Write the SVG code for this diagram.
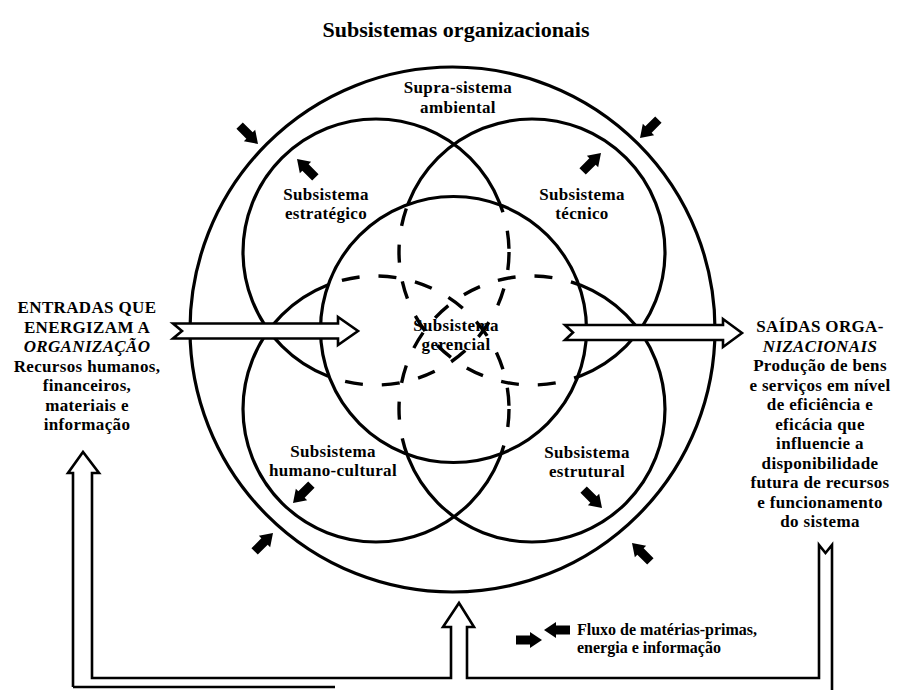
<svg xmlns="http://www.w3.org/2000/svg" xmlns:xlink="http://www.w3.org/1999/xlink" width="897" height="690" viewBox="0 0 897 690">
  <style>
    text { font-family: "Liberation Serif", "Times New Roman", serif; font-weight: bold; fill: #000; text-anchor: middle; }
    .title { font-size: 22px; }
    .lbl { font-size: 17px; letter-spacing: 0.35px; }
    .it { font-style: italic; }
    .legend { font-size: 16px; text-anchor: start; }
    .ring { fill: none; stroke: #000; stroke-width: 3.2; }
    .dash { fill: none; stroke: #000; stroke-width: 3.4; stroke-dasharray: 18 19; }
    .pipe { fill: #fff; stroke: #000; stroke-width: 2.6; stroke-linejoin: miter; }
    .loop { fill: none; stroke: #000; stroke-width: 2.6; stroke-linejoin: miter; }
    .flow { fill: #000; }
  </style>
  <defs>
    <!-- short solid flow arrow, tip at the origin, pointing along +x -->
    <path id="flow" d="M0,0 L-12,-8 L-12,-4.5 L-26,-4.5 L-26,4.5 L-12,4.5 L-12,8 Z"/>
    <clipPath id="inCore">
      <circle cx="453.5" cy="329.5" r="133"/>
    </clipPath>
    <mask id="outCore" maskUnits="userSpaceOnUse" x="0" y="0" width="897" height="690">
      <rect x="0" y="0" width="897" height="690" fill="#fff"/>
      <circle cx="453.5" cy="329.5" r="133" fill="#000"/>
    </mask>
  </defs>

  <rect x="0" y="0" width="897" height="690" fill="#fff"/>

  <g id="title">
    <text class="title" x="456" y="37">Subsistemas organizacionais</text>
  </g>

  <!-- environment: outer ring -->
  <g id="supra-sistema">
    <circle class="ring" cx="452.5" cy="329.5" r="262.5"/>
    <text class="lbl" x="458" y="93">Supra-sistema</text>
    <text class="lbl" x="458" y="113">ambiental</text>
  </g>

  <!-- four subsystem rings: solid outside the core, dashed inside it -->
  <g id="petal-rings">
    <g mask="url(#outCore)">
      <circle class="ring" cx="376" cy="252" r="133"/>
      <circle class="ring" cx="532" cy="252" r="133"/>
      <circle class="ring" cx="376" cy="409" r="133"/>
      <circle class="ring" cx="532" cy="409" r="133"/>
    </g>
    <g clip-path="url(#inCore)">
      <circle class="dash" cx="376" cy="252" r="133"/>
      <circle class="dash" cx="532" cy="252" r="133"/>
      <circle class="dash" cx="376" cy="409" r="133"/>
      <circle class="dash" cx="532" cy="409" r="133"/>
    </g>
  </g>

  <g id="estrategico">
    <text class="lbl" x="326" y="200">Subsistema</text>
    <text class="lbl" x="326" y="219">estratégico</text>
  </g>
  <g id="tecnico">
    <text class="lbl" x="582" y="200">Subsistema</text>
    <text class="lbl" x="582" y="219">técnico</text>
  </g>
  <g id="gerencial">
    <circle class="ring" cx="453.5" cy="329.5" r="133"/>
    <text class="lbl" x="456" y="331">Subsistema</text>
    <text class="lbl" x="456" y="350">gerencial</text>
  </g>
  <g id="humano-cultural">
    <text class="lbl" x="333" y="457">Subsistema</text>
    <text class="lbl" x="333" y="476">humano-cultural</text>
  </g>
  <g id="estrutural">
    <text class="lbl" x="587" y="458">Subsistema</text>
    <text class="lbl" x="587" y="477">estrutural</text>
  </g>

  <g id="entradas">
    <text class="lbl" x="87" y="313">ENTRADAS QUE</text>
    <text class="lbl" x="87" y="332.5">ENERGIZAM A</text>
    <text class="lbl it" x="87" y="352">ORGANIZAÇÃO</text>
    <text class="lbl" x="87" y="371.5">Recursos humanos,</text>
    <text class="lbl" x="87" y="391">financeiros,</text>
    <text class="lbl" x="87" y="410.5">materiais e</text>
    <text class="lbl" x="87" y="430">informação</text>
  </g>

  <g id="saidas">
    <text class="lbl" x="820" y="332">SAÍDAS ORGA-</text>
    <text class="lbl it" x="820" y="351.5">NIZACIONAIS</text>
    <text class="lbl" x="820" y="371">Produção de bens</text>
    <text class="lbl" x="820" y="390.5">e serviços em nível</text>
    <text class="lbl" x="820" y="410">de eficiência e</text>
    <text class="lbl" x="820" y="429.5">eficácia que</text>
    <text class="lbl" x="820" y="449">influencie a</text>
    <text class="lbl" x="820" y="468.5">disponibilidade</text>
    <text class="lbl" x="820" y="488">futura de recursos</text>
    <text class="lbl" x="820" y="507.5">e funcionamento</text>
    <text class="lbl" x="820" y="527">do sistema</text>
  </g>

  <g id="connectors">
    <!-- input and output block arrows -->
    <path class="pipe" d="M173,323.5 H338 V317 L358,331 L338,345 V338.5 H173 L182,331 Z"/>
    <path class="pipe" d="M565,325 H723 V319 L742,333 L723,347 V340 H565 L573,332.5 Z"/>
    <!-- feedback loop from outputs back to inputs and environment -->
    <path class="loop" d="M73,687 V473 H68 L83,452 L99,473 H92 V678 H451 V627 H443 L459,603 L474,627 H467 V678 H819 V545 L825.5,553 L832,545 V692"/>
    <path class="loop" d="M73,687 H335"/>
    <!-- exchange arrows -->
    <g class="flow">
      <use xlink:href="#flow" transform="translate(258,144) rotate(45)"/>
      <use xlink:href="#flow" transform="translate(297,159) rotate(-135)"/>
      <use xlink:href="#flow" transform="translate(640,138) rotate(135)"/>
      <use xlink:href="#flow" transform="translate(601,153) rotate(-45)"/>
      <use xlink:href="#flow" transform="translate(273,533) rotate(-45)"/>
      <use xlink:href="#flow" transform="translate(293,503) rotate(135)"/>
      <use xlink:href="#flow" transform="translate(602,508) rotate(45)"/>
      <use xlink:href="#flow" transform="translate(632,543) rotate(-135)"/>
    </g>
  </g>

  <g id="legend">
    <g class="flow">
      <use xlink:href="#flow" transform="translate(544,630) rotate(180)"/>
      <use xlink:href="#flow" transform="translate(542,640)"/>
    </g>
    <text class="legend" x="577" y="635">Fluxo de matérias-primas,</text>
    <text class="legend" x="577" y="653">energia e informação</text>
  </g>
</svg>
